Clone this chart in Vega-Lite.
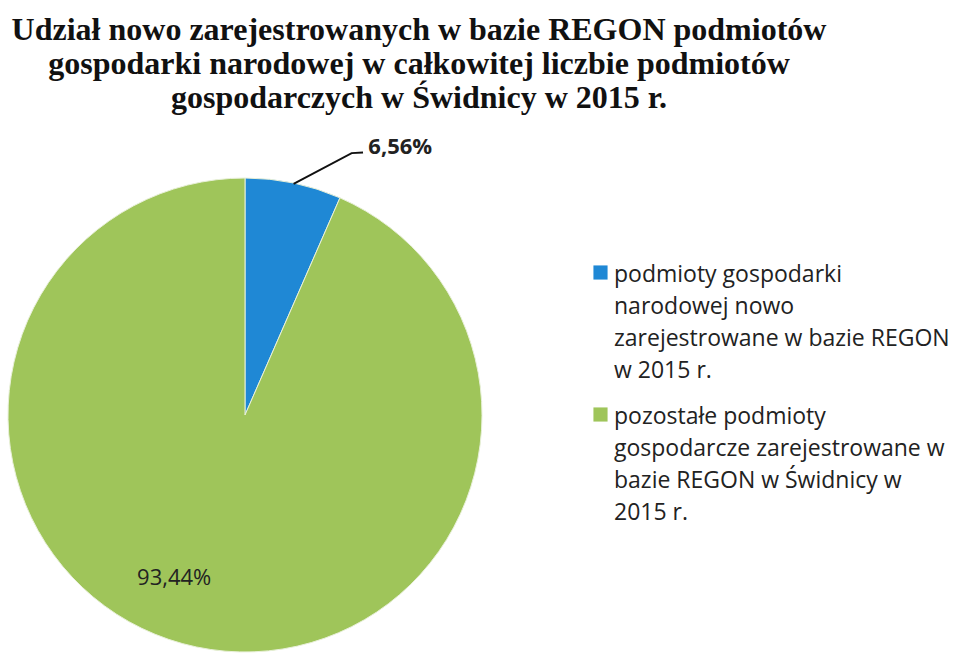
{
  "$schema": "https://vega.github.io/schema/vega-lite/v6.json",
  "width": 474,
  "height": 474,
  "autosize": {"type": "none"},
  "padding": {"left": 8, "top": 178, "right": 473, "bottom": 2},
  "background": "white",
  "title": {
    "text": ["Udział nowo zarejestrowanych w bazie REGON podmiotów", "gospodarki narodowej w całkowitej liczbie podmiotów", "gospodarczych w Świdnicy w 2015 r."],
    "font": "Liberation Serif",
    "fontSize": 32,
    "fontWeight": "bold",
    "color": "#111111",
    "anchor": "middle",
    "dx": 174,
    "offset": 21,
    "lineHeight": 34
  },
  "data": {
    "values": [
      {"idx": 1, "kategoria": "podmioty gospodarki|narodowej nowo|zarejestrowane w bazie REGON|w 2015 r.", "udzial": 6.56, "etykieta": "6,56%"},
      {"idx": 2, "kategoria": "pozostałe podmioty|gospodarcze zarejestrowane w|bazie REGON w Świdnicy w|2015 r.", "udzial": 93.44, "etykieta": "93,44%"}
    ]
  },
  "encoding": {
    "theta": {"field": "udzial", "type": "quantitative", "stack": true},
    "order": {"field": "idx", "type": "quantitative"}
  },
  "layer": [
    {
      "mark": {"type": "arc", "stroke": "#e8f0d8", "strokeWidth": 1},
      "encoding": {
        "color": {
          "field": "kategoria",
          "type": "nominal",
          "scale": {"range": ["#1f88d5", "#9fc55a"]},
          "sort": {"field": "idx"},
          "legend": {
            "title": null,
            "orient": "none",
            "legendX": 581,
            "legendY": 83,
            "symbolType": "square",
            "symbolSize": 200,
            "symbolStrokeWidth": 0,
            "labelFont": "Open Sans",
            "labelFontSize": 23,
            "labelColor": "#222222",
            "labelLimit": 400,
            "labelOffset": 2,
            "rowPadding": 20,
            "labelBaseline": "alphabetic",
            "labelExpr": "split(datum.label, '|')"
          }
        }
      }
    },
    {
      "mark": {"type": "text", "radius": 175, "dx": -35, "dy": -8, "font": "Open Sans", "fontSize": 22, "color": "#222222"},
      "encoding": {
        "text": {"condition": {"test": "datum.idx == 2", "field": "etykieta"}, "value": ""}
      }
    },
    {
      "mark": {"type": "text", "radius": 270, "dx": 100, "dy": -4, "font": "Open Sans", "fontSize": 22, "fontWeight": "bold", "color": "#222222"},
      "encoding": {
        "text": {"condition": {"test": "datum.idx == 1", "field": "etykieta"}, "value": ""}
      }
    },
    {
      "data": {"values": [{"p": 1, "x": 0.205, "y": 0.975}, {"p": 2, "x": 0.45, "y": 1.105}, {"p": 3, "x": 0.498, "y": 1.108}]},
      "mark": {"type": "line", "color": "#111111", "strokeWidth": 2},
      "encoding": {
        "theta": null,
        "order": {"field": "p", "type": "quantitative"},
        "x": {"field": "x", "type": "quantitative", "scale": {"domain": [-1, 1]}, "axis": null},
        "y": {"field": "y", "type": "quantitative", "scale": {"domain": [-1, 1]}, "axis": null}
      }
    }
  ],
  "config": {"view": {"stroke": null}, "style": {"guide-label": {"lineHeight": 32, "dy": 9}}}
}
